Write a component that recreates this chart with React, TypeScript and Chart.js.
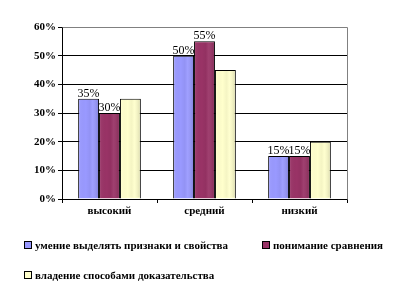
import React, { useEffect, useRef } from "react";
import { Chart, registerables } from "chart.js";

Chart.register(...registerables);

const categories = ["высокий", "средний", "низкий"];
const seriesNames = [
  "умение выделять признаки и свойства",
  "понимание сравнения",
  "владение способами доказательства",
];
const series1 = [35, 50, 15];
const series2 = [30, 55, 15];
const series3 = [35, 45, 20];
const yTicks = [0, 10, 20, 30, 40, 50, 60];
const colors = ["#9999FF", "#993366", "#FFFFCC"];
const labeledSeries = [0, 1];

const FONT = "'Liberation Serif', 'Times New Roman', serif";

const shadePlugin = {
  id: "shade",
  afterDatasetDraw(chart: any, args: any) {
    const ctx = chart.ctx;
    const meta = args.meta;
    meta.data.forEach((bar: any) => {
      const { x, y, base, width } = bar.getProps(["x", "y", "base", "width"], true);
      const left = x - width / 2 + 1;
      const right = x + width / 2 - 1;
      const top = Math.min(y, base) + 1;
      const bottom = Math.max(y, base) - 1;
      if (right <= left || bottom <= top) return;
      const g = ctx.createLinearGradient(left, 0, right, 0);
      g.addColorStop(0, "rgba(255,255,255,0.05)");
      g.addColorStop(0.35, "rgba(0,0,0,0)");
      g.addColorStop(0.55, "rgba(0,0,0,0.04)");
      g.addColorStop(0.7, "rgba(255,255,255,0.06)");
      g.addColorStop(1, "rgba(0,0,0,0.12)");
      ctx.save();
      ctx.fillStyle = g;
      ctx.fillRect(left, top, right - left, bottom - top);
      ctx.restore();
    });
  },
};

const framePlugin = {
  id: "frame",
  beforeDatasetsDraw(chart: any) {
    const { ctx, chartArea } = chart;
    ctx.save();
    ctx.strokeStyle = "#808080";
    ctx.lineWidth = 1;
    ctx.beginPath();
    ctx.moveTo(Math.round(chartArea.left) + 0.5, Math.round(chartArea.top) + 0.5);
    ctx.lineTo(Math.round(chartArea.right) + 0.5, Math.round(chartArea.top) + 0.5);
    ctx.lineTo(Math.round(chartArea.right) + 0.5, Math.round(chartArea.bottom) + 0.5);
    ctx.stroke();
    ctx.restore();
  },
};

const labelPlugin = {
  id: "valueLabels",
  afterDatasetsDraw(chart: any) {
    const ctx = chart.ctx;
    ctx.save();
    ctx.font = `12px ${FONT}`;
    ctx.fillStyle = "#000";
    ctx.textAlign = "center";
    ctx.textBaseline = "alphabetic";
    labeledSeries.forEach((di) => {
      const meta = chart.getDatasetMeta(di);
      meta.data.forEach((bar: any, i: number) => {
        const v = chart.data.datasets[di].data[i];
        ctx.fillText(`${v}%`, bar.x, bar.y - 2);
      });
    });
    ctx.restore();
  },
};

function Legend() {
  const item = (i: number, left: number, top: number) => (
    <div
      key={i}
      style={{
        position: "absolute",
        left,
        top,
        display: "flex",
        alignItems: "center",
        whiteSpace: "nowrap",
        font: `bold 11px ${FONT}`,
        color: "#000",
      }}
    >
      <span
        style={{
          display: "inline-block",
          width: 6,
          height: 6,
          background: colors[i],
          border: "1px solid #000",
          marginRight: 3,
        }}
      />
      <span>{seriesNames[i]}</span>
    </div>
  );
  return (
    <>
      {item(0, 24, 239)}
      {item(1, 262, 239)}
      {item(2, 24, 269)}
    </>
  );
}

export default function App() {
  const ref = useRef<HTMLCanvasElement>(null);
  useEffect(() => {
    document.body.style.margin = "0";
    const chart = new Chart(ref.current!, {
      type: "bar",
      data: {
        labels: categories,
        datasets: [series1, series2, series3].map((d, i) => ({
          label: seriesNames[i],
          data: d,
          backgroundColor: colors[i],
          borderColor: "#000",
          borderWidth: 1,
          barPercentage: 1,
          categoryPercentage: 0.66,
        })),
      },
      options: {
        animation: false,
        responsive: false,
        maintainAspectRatio: false,
        layout: { padding: { left: 0, right: 65, top: 27, bottom: 86 } },
        plugins: {
          legend: { display: false },
          tooltip: { enabled: false },
        },
        scales: {
          x: {
            offset: true,
            grid: {
              offset: true,
              drawOnChartArea: false,
              drawTicks: true,
              tickLength: 4,
              color: "#000",
            },
            border: { color: "#000", width: 1 },
            ticks: {
              color: "#000",
              font: { family: FONT, size: 11, weight: "bold" },
              padding: 2,
            },
            afterFit(scale: any) {
              scale.height = 22;
            },
          },
          y: {
            min: 0,
            max: 60,
            afterBuildTicks(scale: any) {
              scale.ticks = yTicks.map((v) => ({ value: v }));
            },
            grid: {
              color: (c: any) => (c.tick && c.tick.value === 60 ? "rgba(0,0,0,0)" : "#000"),
              tickColor: "#000",
              tickLength: 4,
            },
            border: { color: "#000", width: 1 },
            ticks: {
              color: "#000",
              font: { family: FONT, size: 11, weight: "bold" },
              padding: 2,
              callback: (v: any) => `${v}%`,
            },
            afterFit(scale: any) {
              scale.width = 62;
            },
          },
        },
      },
      plugins: [framePlugin, shadePlugin, labelPlugin],
    });
    return () => chart.destroy();
  }, []);
  return (
    <div style={{ position: "relative", width: 412, height: 307, background: "#fff" }}>
      <canvas ref={ref} width={412} height={307} style={{ display: "block" }} />
      <Legend />
    </div>
  );
}
